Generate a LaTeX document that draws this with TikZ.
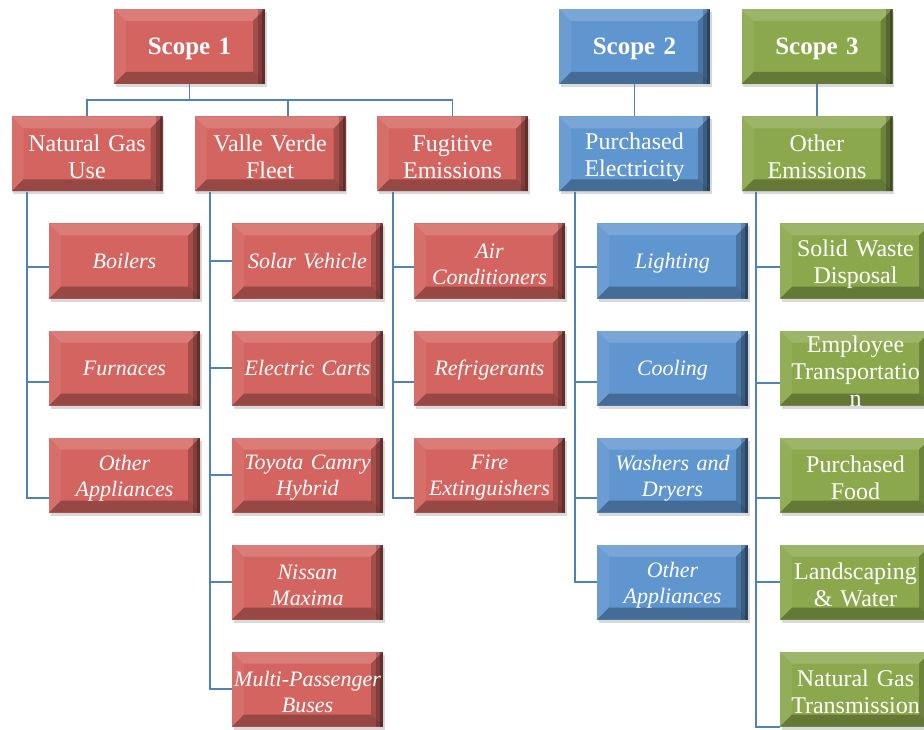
\documentclass[tikz,border=0pt]{standalone}
\usepackage{fontspec}
\setmainfont{Liberation Serif}
\usetikzlibrary{shadows}
\definecolor{redf}{RGB}{211,100,95}
\definecolor{bluef}{RGB}{96,150,208}
\definecolor{greenf}{RGB}{139,168,76}
\definecolor{linec}{RGB}{79,129,189}
\tikzset{
  bevel/.style={path picture={
    \def\bb{path picture bounding box}
    \fill[white,opacity=.16] (\bb.north west) -- (\bb.north east) -- ([shift={(-12pt,-12pt)}]\bb.north east) -- ([shift={(12pt,-12pt)}]\bb.north west) -- cycle;
    \fill[white,opacity=.07] (\bb.north west) -- ([shift={(12pt,-12pt)}]\bb.north west) -- ([shift={(12pt,12pt)}]\bb.south west) -- (\bb.south west) -- cycle;
    \fill[black,opacity=.22] (\bb.north east) -- (\bb.south east) -- ([shift={(-12pt,12pt)}]\bb.south east) -- ([shift={(-12pt,-12pt)}]\bb.north east) -- cycle;
    \fill[black,opacity=.2] ([xshift=-7pt]\bb.north east) rectangle (\bb.south east);
    \fill[black,opacity=.25] ([xshift=-3pt]\bb.north east) rectangle (\bb.south east);
    \fill[black,opacity=.28] (\bb.south west) -- (\bb.south east) -- ([shift={(-12pt,12pt)}]\bb.south east) -- ([shift={(12pt,12pt)}]\bb.south west) -- cycle;
  }},
  box/.style={rectangle, fill=#1, minimum width=151pt, minimum height=75pt,
    inner sep=0pt, text width=148pt, align=center, text=white,
    font=\fontsize{24}{27}\selectfont, bevel,
    execute at end node={\par\vspace{-6pt}},
    drop shadow={shadow xshift=1.5pt, shadow yshift=-3pt, opacity=.3}},
  scopebox/.style={box=#1, font=\fontsize{25}{28}\selectfont\bfseries},
  itbox/.style={box=#1, font=\fontsize{22}{26}\selectfont\itshape},
  conn/.style={draw=linec, line width=1.8pt},
}
\begin{document}
\begin{tikzpicture}[x=1pt,y=-1pt]
\useasboundingbox (0,0) rectangle (924,730);
% top level
\node[scopebox=redf]   (s1) at (189.5,46.5) {Scope 1};
\node[scopebox=bluef]  (s2) at (634.5,46.5) {Scope 2};
\node[scopebox=greenf] (s3) at (817,46.5)   {Scope 3};
% second level
\node[box=redf]   (ng) at (87,154)    {Natural Gas\\Use};
\node[box=redf]   (vv) at (270,154)   {Valle Verde\\Fleet};
\node[box=redf]   (fe) at (452.5,154) {Fugitive\\Emissions};
\node[box=bluef]  (pe) at (634.5,154) {Purchased\\Electricity};
\node[box=greenf] (oe) at (817,154)   {Other\\Emissions};
% Natural gas children
\node[itbox=redf] (ng1) at (124.5,261) {Boilers};
\node[itbox=redf] (ng2) at (124.5,368) {Furnaces};
\node[itbox=redf] (ng3) at (124.5,475) {Other\\Appliances};
% Valle Verde children
\node[itbox=redf] (vv1) at (307.5,261) {Solar Vehicle};
\node[itbox=redf] (vv2) at (307.5,368) {Electric Carts};
\node[itbox=redf] (vv3) at (307.5,475) {Toyota Camry\\Hybrid};
\node[itbox=redf] (vv4) at (307.5,582) {Nissan\\Maxima};
\node[itbox=redf] (vv5) at (307.5,689) {Multi-Passenger\\Buses};
% Fugitive children
\node[itbox=redf] (fe1) at (489.5,261) {Air\\Conditioners};
\node[itbox=redf] (fe2) at (489.5,368) {Refrigerants};
\node[itbox=redf] (fe3) at (489.5,475) {Fire\\Extinguishers};
% Scope 2 children
\node[itbox=bluef] (pe1) at (672.5,261) {Lighting};
\node[itbox=bluef] (pe2) at (672.5,368) {Cooling};
\node[itbox=bluef] (pe3) at (672.5,475) {Washers and\\Dryers};
\node[itbox=bluef] (pe4) at (672.5,582) {Other\\Appliances};
% Scope 3 children
\node[box=greenf] (oe1) at (855.5,261) {Solid Waste\\Disposal};
\node[box=greenf] (oe2) at (855.5,368) {Employee\\Transportatio\\n};
\node[box=greenf] (oe3) at (855.5,475) {Purchased\\Food};
\node[box=greenf] (oe4) at (855.5,582) {Landscaping\\\& Water};
\node[box=greenf] (oe5) at (855.5,689) {Natural Gas\\Transmission};
% top connectors
\draw[conn] (s1.south) -- ++(0,16) -| (ng.north);
\draw[conn] (s1.south) -- ++(0,16) -| ([xshift=18pt]vv.north);
\draw[conn] (s1.south) -- ++(0,16) -| (fe.north);
\draw[conn] (s2.south) -- (pe.north);
\draw[conn] (s3.south) -- (oe.north);
% child connectors
\draw[conn] ([xshift=16pt]ng.south west) |- ([yshift=-6pt]ng1.west);
\draw[conn] ([xshift=16pt]ng.south west) |- ([yshift=-14pt]ng2.west);
\draw[conn] ([xshift=16pt]ng.south west) |- ([yshift=-23pt]ng3.west);
\draw[conn] ([xshift=16pt]vv.south west) |- (vv1.west);
\draw[conn] ([xshift=16pt]vv.south west) |- (vv2.west);
\draw[conn] ([xshift=16pt]vv.south west) |- (vv3.west);
\draw[conn] ([xshift=16pt]vv.south west) |- (vv4.west);
\draw[conn] ([xshift=16pt]vv.south west) |- (vv5.west);
\draw[conn] ([xshift=16pt]fe.south west) |- ([yshift=-6pt]fe1.west);
\draw[conn] ([xshift=16pt]fe.south west) |- ([yshift=-14pt]fe2.west);
\draw[conn] ([xshift=16pt]fe.south west) |- ([yshift=-23pt]fe3.west);
\draw[conn] ([xshift=16pt]pe.south west) |- ([yshift=-6pt]pe1.west);
\draw[conn] ([xshift=16pt]pe.south west) |- ([yshift=-14pt]pe2.west);
\draw[conn] ([xshift=16pt]pe.south west) |- ([yshift=-23pt]pe3.west);
\draw[conn] ([xshift=16pt]pe.south west) |- (pe4.west);
\draw[conn] ([xshift=15pt]oe.south west) |- ([yshift=-6pt]oe1.west);
\draw[conn] ([xshift=15pt]oe.south west) |- ([yshift=-15pt]oe2.west);
\draw[conn] ([xshift=15pt]oe.south west) |- ([yshift=-23pt]oe3.west);
\draw[conn] ([xshift=15pt]oe.south west) |- (oe4.west);
\draw[conn] ([xshift=15pt]oe.south west) |- ([yshift=-38pt]oe5.west);
\end{tikzpicture}
\end{document}
